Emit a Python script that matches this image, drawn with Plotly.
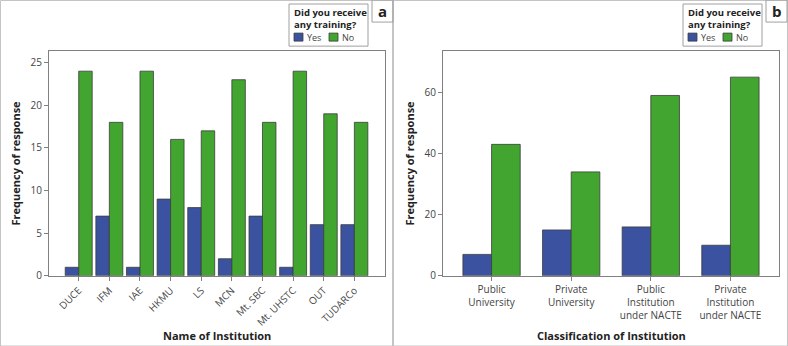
import plotly.graph_objects as go

# ---- data ----
institutions = ["DUCE", "IFM", "IAE", "HKMU", "LS", "MCN", "Mt. SBC", "Mt. UHSTC", "OUT", "TUDARCo"]
inst_yes = [1, 7, 1, 9, 8, 2, 7, 1, 6, 6]
inst_no = [24, 18, 24, 16, 17, 23, 18, 24, 19, 18]

classes = ["Public University", "Private University",
           "Public Institution under NACTE", "Private Institution under NACTE"]
class_ticktext = ["Public<br>University", "Private<br>University",
                  "Public<br>Institution<br>under NACTE", "Private<br>Institution<br>under NACTE"]
class_yes = [7, 15, 16, 10]
class_no = [43, 34, 59, 65]

series_names = ["Yes", "No"]
legend_title = "Did you receive<br>any training?"
panel_labels = ["a", "b"]

# ---- style ----
W = 788
H_LAYOUT = 354   # the page shows the figure 8px shorter than its layout height
H_EFF = 346      # visible height used for paper-coordinate placement
BLUE = "#3a52a0"
GREEN = "#41a52f"
OUTLINE = "#3c3c3c"
AXIS = "#808080"
FONT = "Open Sans"
TICKC = "#444444"

def px(x):
    return x / W

def py(y):
    return 1 - y / H_EFF

fig = go.Figure()

fig.add_trace(go.Bar(x=institutions, y=inst_yes, name=series_names[0], marker=dict(color=BLUE, line=dict(color=OUTLINE, width=0.8)),
                     xaxis="x", yaxis="y", showlegend=False))
fig.add_trace(go.Bar(x=institutions, y=inst_no, name=series_names[1], marker=dict(color=GREEN, line=dict(color=OUTLINE, width=0.8)),
                     xaxis="x", yaxis="y", showlegend=False))
fig.add_trace(go.Bar(x=classes, y=class_yes, name=series_names[0], marker=dict(color=BLUE, line=dict(color=OUTLINE, width=0.8)),
                     xaxis="x2", yaxis="y2", showlegend=False, offsetgroup="a", width=0.36, offset=-0.36))
fig.add_trace(go.Bar(x=classes, y=class_no, name=series_names[1], marker=dict(color=GREEN, line=dict(color=OUTLINE, width=0.8)),
                     xaxis="x2", yaxis="y2", showlegend=False, offsetgroup="b", width=0.36, offset=0.0))

common_axis = dict(showline=True, linecolor=AXIS, linewidth=1, mirror=True,
                   ticks="outside", ticklen=4, tickcolor=AXIS, showgrid=False, zeroline=False,
                   tickfont=dict(family=FONT, size=10, color=TICKC))

ydom = [py(275), py(51)]

fig.update_layout(
    width=W, height=H_LAYOUT, autosize=False,
    margin=dict(l=0, r=0, t=0, b=0),
    paper_bgcolor="white", plot_bgcolor="white",
    barmode="group", bargap=0.12, bargroupgap=0.0,
    font=dict(family=FONT, size=10, color=TICKC),
    xaxis=dict(domain=[px(49), px(385)], anchor="y", range=[-0.97, 10.0], tickangle=-45,
               **common_axis),
    yaxis=dict(domain=ydom, anchor="x", range=[0, 26.35], dtick=5, **common_axis),
    xaxis2=dict(domain=[px(443), px(779)], anchor="y2", range=[-0.61, 3.61],
                tickvals=classes, ticktext=class_ticktext, **common_axis),
    yaxis2=dict(domain=ydom, anchor="x2", range=[0, 73.5], dtick=20, **common_axis),
)

shapes = []
annotations = []

# panel borders
shapes.append(dict(type="rect", xref="paper", yref="paper", x0=px(0.5), x1=px(393), y0=py(345), y1=py(0.5),
                   line=dict(color="#c4c4c4", width=1)))
shapes.append(dict(type="rect", xref="paper", yref="paper", x0=px(393), x1=px(787.5), y0=py(345), y1=py(0.5),
                   line=dict(color="#c4c4c4", width=1)))
shapes.append(dict(type="line", xref="paper", yref="paper", x0=px(393), x1=px(393), y0=0, y1=1,
                   line=dict(color="#c4c4c4", width=2)))

x_titles = ["Name of Institution", "Classification of Institution"]
plot_x = [(49, 385), (443, 779)]

for i, off in enumerate([0, 394]):
    # panel letter box
    shapes.append(dict(type="rect", xref="paper", yref="paper", x0=px(off + 372), x1=px(off + 393),
                       y0=py(22), y1=py(0), line=dict(color="#a0a0a0", width=1)))
    annotations.append(dict(xref="paper", yref="paper", x=px(off + 382.5), y=py(11), text="<b>%s</b>" % panel_labels[i],
                            showarrow=False, font=dict(family=FONT, size=15, color="#222222"),
                            xanchor="center", yanchor="middle"))
    # legend box
    shapes.append(dict(type="rect", xref="paper", yref="paper", x0=px(off + 289), x1=px(off + 368),
                       y0=py(46), y1=py(4), line=dict(color="#a0a0a0", width=1), fillcolor="white"))
    annotations.append(dict(xref="paper", yref="paper", x=px(off + 293), y=py(18.3), text="<b>%s</b>" % legend_title,
                            showarrow=False, align="left", font=dict(family=FONT, size=9.5, color="#222222"),
                            xanchor="left", yanchor="middle", borderpad=0))
    for j, (name, col) in enumerate(zip(series_names, [BLUE, GREEN])):
        sx = off + 294 + j * 35
        shapes.append(dict(type="rect", xref="paper", yref="paper", x0=px(sx), x1=px(sx + 9),
                           y0=py(41), y1=py(33), fillcolor=col, line=dict(color=OUTLINE, width=0.8)))
        annotations.append(dict(xref="paper", yref="paper", x=px(sx + 12), y=py(37.5), text=name,
                                showarrow=False, font=dict(family=FONT, size=9, color=TICKC),
                                xanchor="left", yanchor="middle", borderpad=0))
    # axis titles
    x0, x1 = plot_x[i]
    annotations.append(dict(xref="paper", yref="paper", x=px((x0 + x1) / 2), y=py(335), text="<b>%s</b>" % x_titles[i],
                            showarrow=False, font=dict(family=FONT, size=11, color="#222222"),
                            xanchor="center", yanchor="middle", borderpad=0))
    annotations.append(dict(xref="paper", yref="paper", x=px(off + 15), y=py(163), text="<b>Frequency of response</b>",
                            showarrow=False, textangle=-90, font=dict(family=FONT, size=11, color="#222222"),
                            xanchor="center", yanchor="middle"))

fig.update_layout(shapes=shapes, annotations=annotations)

fig.write_html("out.html", config={"displayModeBar": False, "responsive": False},
               post_script="document.body.style.margin='0';")
